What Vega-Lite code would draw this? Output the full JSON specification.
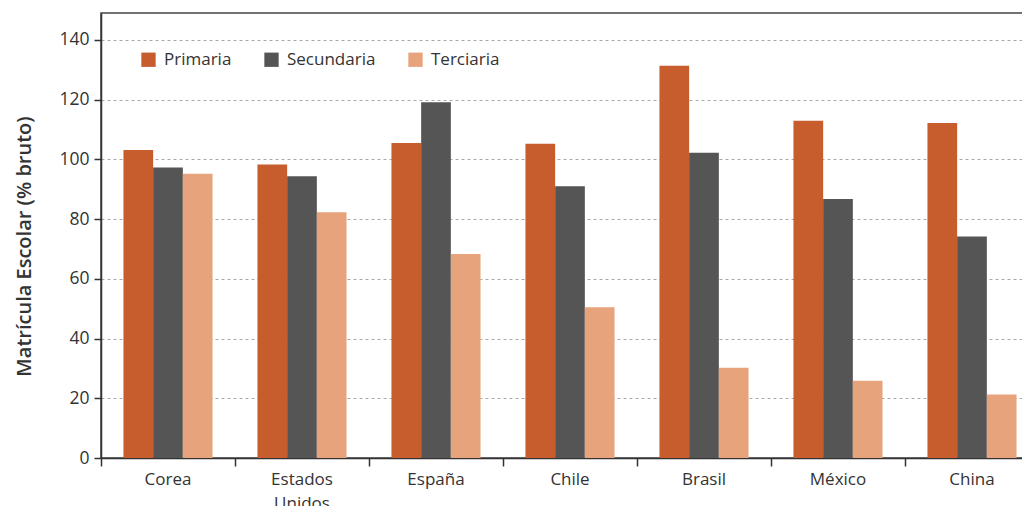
{
  "$schema": "https://vega.github.io/schema/vega-lite/v6.json",
  "autosize": {"type": "none"},
  "width": 922,
  "height": 445,
  "padding": {"left": 101, "top": 13, "right": 0, "bottom": 48},
  "background": "white",
  "config": {
    "font": "Open Sans",
    "view": {"stroke": "#444444", "strokeWidth": 1.5}
  },
  "data": {
    "values": [
      {"pais": "Corea", "nivel": "Primaria", "valor": 103.1},
      {"pais": "Corea", "nivel": "Secundaria", "valor": 97.3},
      {"pais": "Corea", "nivel": "Terciaria", "valor": 95.2},
      {"pais": "Estados Unidos", "nivel": "Primaria", "valor": 98.3},
      {"pais": "Estados Unidos", "nivel": "Secundaria", "valor": 94.3},
      {"pais": "Estados Unidos", "nivel": "Terciaria", "valor": 82.3},
      {"pais": "España", "nivel": "Primaria", "valor": 105.5},
      {"pais": "España", "nivel": "Secundaria", "valor": 119.1},
      {"pais": "España", "nivel": "Terciaria", "valor": 68.3},
      {"pais": "Chile", "nivel": "Primaria", "valor": 105.2},
      {"pais": "Chile", "nivel": "Secundaria", "valor": 91.0},
      {"pais": "Chile", "nivel": "Terciaria", "valor": 50.5},
      {"pais": "Brasil", "nivel": "Primaria", "valor": 131.3},
      {"pais": "Brasil", "nivel": "Secundaria", "valor": 102.2},
      {"pais": "Brasil", "nivel": "Terciaria", "valor": 30.2},
      {"pais": "México", "nivel": "Primaria", "valor": 112.9},
      {"pais": "México", "nivel": "Secundaria", "valor": 86.7},
      {"pais": "México", "nivel": "Terciaria", "valor": 25.9},
      {"pais": "China", "nivel": "Primaria", "valor": 112.2},
      {"pais": "China", "nivel": "Secundaria", "valor": 74.2},
      {"pais": "China", "nivel": "Terciaria", "valor": 21.3}
    ]
  },
  "mark": {"type": "bar"},
  "encoding": {
    "x": {
      "field": "pais",
      "type": "nominal",
      "sort": null,
      "scale": {"paddingInner": 0, "paddingOuter": 0, "range": [0, 938]},
      "axis": {
        "title": null,
        "bandPosition": 0,
        "labelAngle": 0,
        "labelFontSize": 17,
        "labelColor": "#333333",
        "labelPadding": 5,
        "labelLineHeight": 24,
        "labelExpr": "split(datum.value, ' ')",
        "tickSize": 8,
        "tickColor": "#333333",
        "tickWidth": 1.5,
        "domainColor": "#333333",
        "domainWidth": 1.5,
        "grid": false
      }
    },
    "xOffset": {
      "field": "nivel",
      "type": "nominal",
      "sort": ["Primaria", "Secundaria", "Terciaria"],
      "scale": {"paddingInner": 0, "paddingOuter": 0.756}
    },
    "y": {
      "field": "valor",
      "type": "quantitative",
      "scale": {"domain": [0, 149], "nice": false},
      "axis": {
        "title": "Matrícula Escolar (% bruto)",
        "titleFontSize": 20,
        "titleFontWeight": 600,
        "titleColor": "#333333",
        "titlePadding": 24,
        "titleY": 233,
        "values": [0, 20, 40, 60, 80, 100, 120, 140],
        "labelFontSize": 17.5,
        "labelColor": "#333333",
        "labelPadding": 5,
        "tickSize": 7,
        "tickColor": "#333333",
        "tickWidth": 1.5,
        "domainColor": "#333333",
        "domainWidth": 1.5,
        "grid": true,
        "gridColor": "#a8a8a8",
        "gridDash": [3, 3],
        "gridWidth": 1
      }
    },
    "color": {
      "field": "nivel",
      "type": "nominal",
      "sort": ["Primaria", "Secundaria", "Terciaria"],
      "scale": {
        "domain": ["Primaria", "Secundaria", "Terciaria"],
        "range": ["#C75C2D", "#555555", "#E7A37B"]
      },
      "legend": {
        "title": null,
        "orient": "none",
        "legendX": 39,
        "legendY": 38,
        "direction": "horizontal",
        "symbolType": "square",
        "symbolSize": 205,
        "symbolStrokeWidth": 0,
        "labelFontSize": 17,
        "labelColor": "#333333",
        "labelOffset": 7,
        "columnPadding": 31,
        "padding": 0
      }
    }
  }
}
